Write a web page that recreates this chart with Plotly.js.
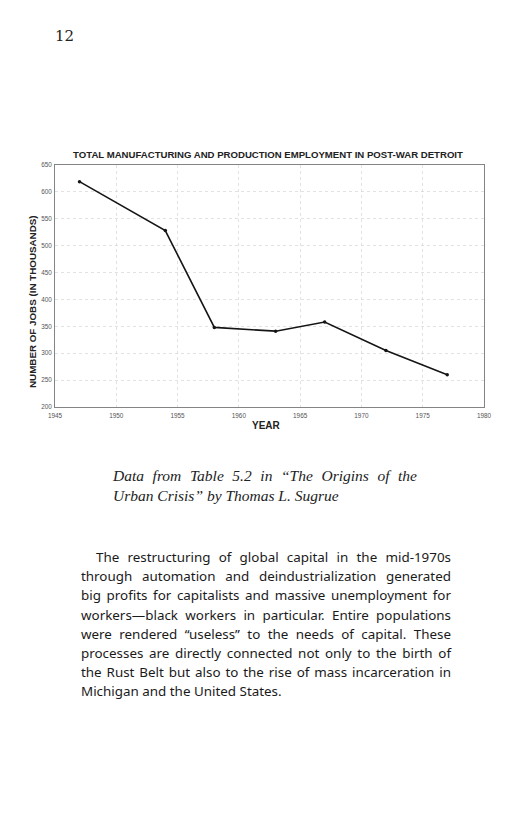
<!DOCTYPE html>
<html>
<head>
<meta charset="utf-8">
<script src="https://cdn.plot.ly/plotly-3.0.1.min.js"></script>
<style>
  html, body { margin: 0; padding: 0; background: #fff; }
  body { width: 528px; height: 816px; position: relative; overflow: hidden; }
  #chart { position: absolute; left: 0; top: 0; width: 528px; height: 816px; }
  .pagenum { position: absolute; left: 55px; top: 27px; font-family: "DejaVu Serif", serif; font-size: 15px; color: #222; z-index: 2; }
  .caption { position: absolute; left: 113px; width: 304px; font-family: "Liberation Serif", serif; font-style: italic; font-size: 15.5px; color: #222; z-index: 2; line-height: 20px; }
  .caption div, .body div { white-space: nowrap; text-align: justify; text-align-last: justify; }
  .caption div.last, .body div.last { text-align-last: left; }
  .body { position: absolute; left: 81px; top: 548px; width: 370px; font-family: "Noto Sans", sans-serif; font-size: 13.4px; color: #1a1a1a; line-height: 19.2px; z-index: 2; }
</style>
</head>
<body>
<div class="pagenum">12</div>
<div id="chart"></div>
<div class="caption" style="top:466px;">
  <div>Data from Table 5.2 in “The Origins of the</div>
  <div class="last">Urban Crisis” by Thomas L. Sugrue</div>
</div>
<div class="body" id="bodytext">
  <div style="padding-left:15px;">The restructuring of global capital in the mid-1970s</div>
  <div>through automation and deindustrialization generated</div>
  <div>big profits for capitalists and massive unemployment for</div>
  <div>workers—black workers in particular. Entire populations</div>
  <div>were rendered “useless” to the needs of capital. These</div>
  <div>processes are directly connected not only to the birth of</div>
  <div>the Rust Belt but also to the rise of mass incarceration in</div>
  <div class="last">Michigan and the United States.</div>
</div>
<script>
const years = [1947, 1954, 1958, 1963, 1967, 1972, 1977];
const jobs = [619, 528, 348, 341, 358, 305, 260];
const yTicks = [200, 250, 300, 350, 400, 450, 500, 550, 600, 650];
const xTicks = [1945, 1950, 1955, 1960, 1965, 1970, 1975, 1980];

const chartTitle = "TOTAL MANUFACTURING AND PRODUCTION EMPLOYMENT IN POST-WAR DETROIT";
const yTitle = "NUMBER OF JOBS (IN THOUSANDS)";
const xTitle = "YEAR";

const tickFont = { family: "Liberation Sans, Arial, sans-serif", size: 6.4, color: "#555" };

const trace = {
  x: years, y: jobs, type: "scatter", mode: "lines+markers",
  line: { color: "#151515", width: 1.6 },
  marker: { color: "#151515", size: 3.5 },
  hoverinfo: "none"
};

const layout = {
  width: 528, height: 816,
  margin: { l: 55, r: 44, t: 165, b: 409 },
  paper_bgcolor: "rgba(0,0,0,0)", plot_bgcolor: "#fff",
  showlegend: false,
  title: { text: "<b>" + chartTitle + "</b>", font: { family: "Liberation Sans, Arial, sans-serif", size: 9.6, color: "#222" },
           x: (268 - 55) / 429, xref: "paper", xanchor: "center", y: 1 - 155 / 816, yref: "container", yanchor: "middle" },
  xaxis: {
    range: [1945, 1980], tickvals: xTicks, ticktext: xTicks.map(String),
    showgrid: true, gridcolor: "#cfcfcf", griddash: "dot", gridwidth: 0.6,
    showline: true, mirror: true, linecolor: "#777", linewidth: 0.9,
    zeroline: false, ticks: "", tickfont: tickFont, ticklabelstandoff: 2
  },
  yaxis: {
    range: [200, 650], tickvals: yTicks, ticktext: yTicks.map(String),
    showgrid: true, gridcolor: "#cfcfcf", griddash: "dot", gridwidth: 0.6,
    showline: true, mirror: true, linecolor: "#777", linewidth: 0.9,
    zeroline: false, ticks: "", tickfont: tickFont, ticklabelstandoff: 1
  },
  annotations: [
    { text: "<b>" + yTitle + "</b>", xref: "paper", yref: "paper", x: (32 - 55) / 429, y: (407 - 302) / 242,
      textangle: -90, showarrow: false, xanchor: "center", yanchor: "middle",
      font: { family: "Liberation Sans, Arial, sans-serif", size: 9.8, color: "#222" } },
    { text: "<b>" + xTitle + "</b>", xref: "paper", yref: "paper", x: (266 - 55) / 429, y: (407 - 425) / 242,
      showarrow: false, xanchor: "center", yanchor: "middle",
      font: { family: "Liberation Sans, Arial, sans-serif", size: 10, color: "#222" } }
  ]
};

Plotly.newPlot("chart", [trace], layout, { staticPlot: true, displayModeBar: false });
</script>
</body>
</html>
